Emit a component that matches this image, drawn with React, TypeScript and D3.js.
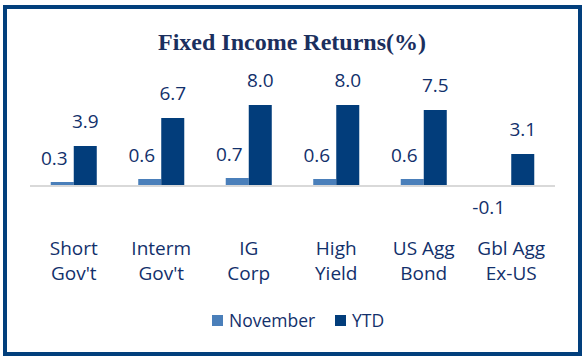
import React from "react";
import * as d3 from "d3";

const categories: string[][] = [
  ["Short", "Gov't"],
  ["Interm", "Gov't"],
  ["IG", "Corp"],
  ["High", "Yield"],
  ["US Agg", "Bond"],
  ["Gbl Agg", "Ex-US"],
];
const seriesNames = ["November", "YTD"];
const november = [0.3, 0.6, 0.7, 0.6, 0.6, -0.1];
const ytd = [3.9, 6.7, 8.0, 8.0, 7.5, 3.1];
const colors = ["#4A7FBA", "#023D7B"];
const title = "Fixed Income Returns(%)";

const W = 586;
const H = 358;
const textColor = "#12306B";
const sans = "'Open Sans', sans-serif";

export default function App() {
  const x0 = d3
    .scaleBand<number>()
    .domain(d3.range(categories.length))
    .range([30, 555])
    .paddingInner(0.474)
    .paddingOuter(0.237);
  const x1 = d3
    .scaleBand<number>()
    .domain([0, 1])
    .range([0, x0.bandwidth()]);
  const y = d3.scaleLinear().domain([0, 8]).range([185, 105]);
  const series = [november, ytd];

  return (
    <svg
      width={W}
      height={H}
      style={{ position: "absolute", left: 0, top: 0, background: "#fff" }}
    >
      <rect x={5} y={7} width={575} height={347} fill="#fff" stroke="#023F7C" strokeWidth={4} />
      <text
        x={292}
        y={50}
        textAnchor="middle"
        fontFamily="'Liberation Serif', serif"
        fontWeight="bold"
        fontSize={24}
        fill="#1B2F5E"
      >
        {title}
      </text>
      {categories.map((cat, i) =>
        series.map((vals, s) => {
          const v = vals[i];
          const bx = (x0(i) as number) + (x1(s) as number);
          const bw = x1.bandwidth();
          const top = Math.min(y(v), y(0));
          const h = Math.abs(y(v) - y(0));
          const cx = bx + bw / 2;
          const dx = s === 0 ? (v < 0 ? -11 : -8) : 0;
          const ty = v < 0 ? y(0) + 29 : y(v) - (s === 0 ? 17.5 : 18);
          return (
            <g key={`${i}-${s}`}>
              <rect x={bx} y={top} width={bw} height={h} fill={colors[s]} />
              <text
                x={cx + dx}
                y={ty}
                textAnchor="middle"
                fontFamily={sans}
                fontSize={19}
                fill={textColor}
              >
                {v.toFixed(1)}
              </text>
            </g>
          );
        })
      )}
      <line x1={30} x2={555} y1={y(0) + 1} y2={y(0) + 1} stroke="#D9D9D9" strokeWidth={2} />
      {categories.map((cat, i) => (
        <text
          key={i}
          x={(x0(i) as number) + x0.bandwidth() / 2}
          y={255}
          textAnchor="middle"
          fontFamily={sans}
          fontSize={19}
          fill={textColor}
        >
          {cat.map((line, j) => (
            <tspan key={j} x={(x0(i) as number) + x0.bandwidth() / 2} dy={j === 0 ? 0 : 24.5}>
              {line}
            </tspan>
          ))}
        </text>
      ))}
      {seriesNames.map((name, s) => {
        const lx = s === 0 ? 212 : 335;
        return (
          <g key={name}>
            <rect x={lx} y={315} width={11} height={11} fill={colors[s]} />
            <text x={lx + 17} y={327} fontFamily={sans} fontSize={17.5} fill={textColor}>
              {name}
            </text>
          </g>
        );
      })}
    </svg>
  );
}
